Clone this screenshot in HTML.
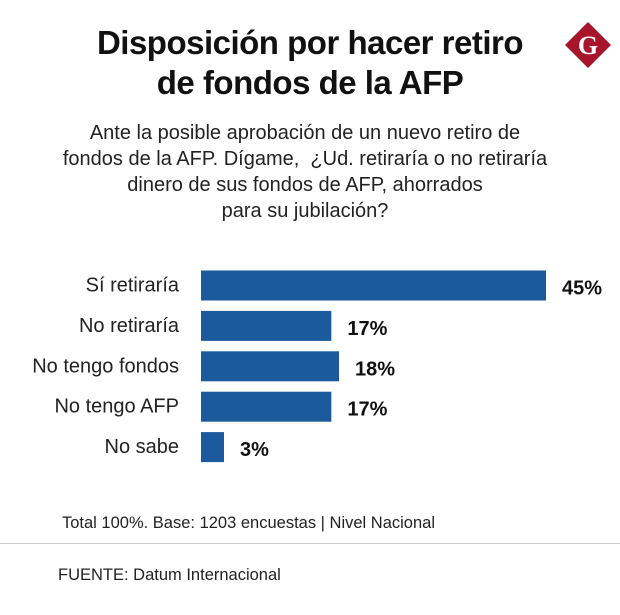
<!DOCTYPE html>
<html><head><meta charset="utf-8"><style>
body{margin:0;background:#fff;font-family:"Liberation Sans",sans-serif;}
#wrap{position:relative;width:620px;height:615px;overflow:hidden;background:#fff;}
.t{position:absolute;white-space:nowrap;color:#111;}
</style></head><body>
<div id="wrap">
<div class="t" style="left:0;width:620px;text-align:center;top:23px;font-size:33px;font-weight:bold;line-height:40px;letter-spacing:-0.5px;">Disposición por hacer retiro<br>de fondos de la AFP</div>
<svg style="position:absolute;left:563px;top:20px" width="50" height="50" viewBox="0 0 50 50"><polygon points="25,2 48,25 25,48 2,25" fill="#a8142a"/><text x="25" y="34" text-anchor="middle" font-family="Liberation Serif" font-weight="bold" font-size="26" fill="#fff">G</text></svg>
<div class="t" style="left:0;width:610px;text-align:center;top:120px;font-size:20px;line-height:26px;color:#222;">Ante la posible aprobación de un nuevo retiro de<br>fondos de la AFP. Dígame,&nbsp; ¿Ud. retiraría o no retiraría<br>dinero de sus fondos de AFP, ahorrados<br>para su jubilación?</div>
<svg id="plot" style="position:absolute;left:0;top:0" width="620" height="615"></svg>
<div class="t" style="left:62px;top:514px;font-size:16.5px;color:#222;">Total 100%. Base: 1203 encuestas | Nivel Nacional</div>
<div style="position:absolute;left:0;top:543px;width:620px;height:1px;background:#ccc;"></div>
<div class="t" style="left:58px;top:566px;font-size:16.5px;color:#222;">FUENTE: Datum Internacional</div>
</div>
<script>
const categories=["Sí retiraría","No retiraría","No tengo fondos","No tengo AFP","No sabe"];
const values=[45,17,18,17,3];
const valueLabels=["45%","17%","18%","17%","3%"];
const svg=document.getElementById('plot');
const NS='http://www.w3.org/2000/svg';
const x0=201,pxPer=345/45,top0=270.5,step=40.4,bh=30;
const xs=v=>x0+v*pxPer;
const ys=i=>top0+i*step;
categories.forEach((c,i)=>{
 const r=document.createElementNS(NS,'rect');
 r.setAttribute('x',x0);r.setAttribute('y',ys(i));
 r.setAttribute('width',xs(values[i])-x0);r.setAttribute('height',bh);
 r.setAttribute('fill','#1b5a9c');
 
 
 svg.appendChild(r);
 const l=document.createElementNS(NS,'text');
 l.setAttribute('x',179);l.setAttribute('y',ys(i)+bh/2+6);
 l.setAttribute('text-anchor','end');l.setAttribute('font-size','20');
 l.setAttribute('fill','#222');l.setAttribute('font-family','Liberation Sans');
 l.textContent=c;
 
 
 svg.appendChild(l);
 const v=document.createElementNS(NS,'text');
 v.setAttribute('x',xs(values[i])+16);v.setAttribute('y',ys(i)+bh/2+9);
 v.setAttribute('font-size','20');v.setAttribute('font-weight','bold');
 v.setAttribute('fill','#111');v.setAttribute('font-family','Liberation Sans');
 v.textContent=valueLabels[i];
 
 
 svg.appendChild(v);
});
</script>
</body></html>
